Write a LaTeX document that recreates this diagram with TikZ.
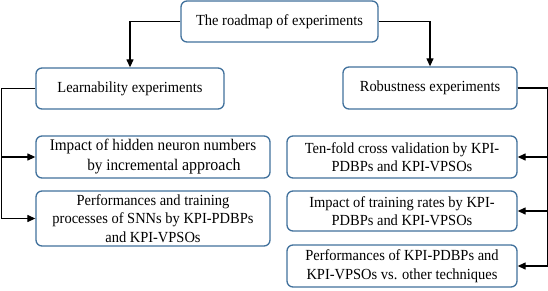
\documentclass[tikz,border=0pt]{standalone}
\usepackage{fontspec}
\setmainfont{Liberation Serif}[FakeStretch=0.94]
\usetikzlibrary{arrows.meta}
\definecolor{boxblue}{HTML}{41719C}
\begin{document}
\begin{tikzpicture}[x=1pt,y=-1pt,
  box/.style={draw=boxblue, line width=1.3pt, rounded corners=6pt, fill=white,
    align=center, inner sep=0pt, font=\fontsize{15.4}{18.5}\selectfont},
  arr/.style={-{Triangle[length=8pt,width=7pt]}, line width=1.2pt, black}]
\useasboundingbox (0,0) rectangle (548,291);
\node[box, minimum width=197pt, minimum height=41pt] (top) at (279.5,21.5) {The roadmap of experiments};
\node[box, minimum width=188pt, minimum height=41pt] (learn) at (130,88.5) {Learnability experiments};
\node[box, minimum width=174pt, minimum height=42pt] (rob) at (430,88) {Robustness experiments};
\node[box, minimum width=234pt, minimum height=42pt, font=\fontsize{16.2}{20}\selectfont] (imp) at (153,157) {Impact of hidden neuron numbers\\ \hspace*{22pt}by incremental {\fontsize{17}{20}\selectfont approach}};
\node[box, minimum width=234pt, minimum height=55pt] (perf) at (153,218.5) {Performances  and training\\ processes of SNNs by KPI-PDBPs\\ and KPI-VPSOs};
\node[box, minimum width=230pt, minimum height=42pt] (ten) at (402,157) {Ten-fold cross validation by KPI-\\ PDBPs and KPI-VPSOs};
\node[box, minimum width=230pt, minimum height=40pt] (trn) at (402,211) {Impact of training rates by  KPI-\\ PDBPs and KPI-VPSOs};
\node[box, minimum width=230pt, minimum height=42pt] (oth) at (402,266) {Performances of KPI-PDBPs  and\\ KPI-VPSOs  vs. other techniques};
\draw[arr] (top.west) -| (learn.north);
\draw[arr] (top.east) -| (rob.north);
\draw[arr] (learn.west) -- ++(-34,0) |- (imp.west);
\draw[arr] (learn.west) -- ++(-34,0) |- (perf.west);
\draw[arr] (rob.east) -- ++(30,0) |- (ten.east);
\draw[arr] (rob.east) -- ++(30,0) |- (trn.east);
\draw[arr] (rob.east) -- ++(30,0) |- (oth.east);
\end{tikzpicture}
\end{document}
